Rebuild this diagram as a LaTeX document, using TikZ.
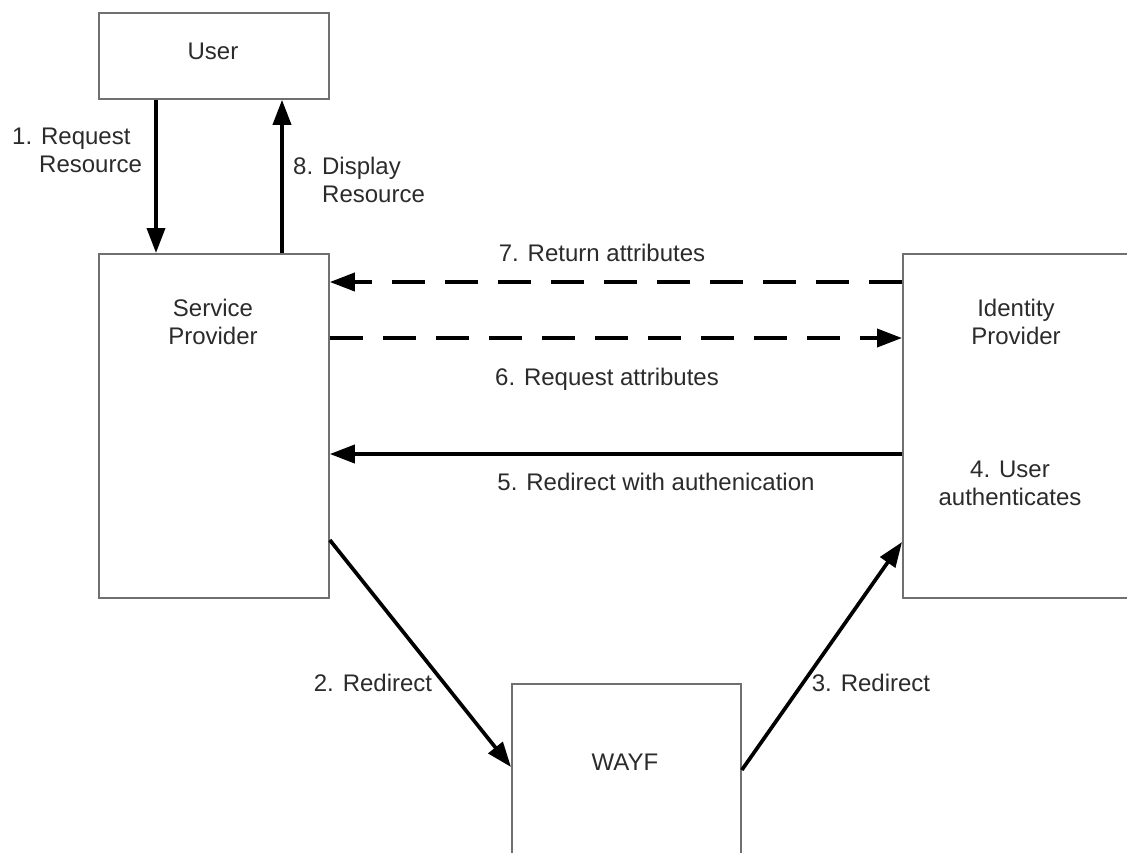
\documentclass[tikz,border=0pt]{standalone}
\usepackage{fontspec}
\setmainfont{Liberation Sans}
\usetikzlibrary{arrows.meta,calc}
\definecolor{boxgray}{HTML}{707070}
\definecolor{txtgray}{HTML}{2B2B2B}
\begin{document}
\begin{tikzpicture}[x=1pt,y=-1pt,
  box/.style={draw=boxgray, line width=1.8pt, fill=white, inner sep=0pt, anchor=north west},
  lbl/.style={text=txtgray, font=\fontsize{24}{28}\selectfont, inner sep=0pt},
  flow/.style={line width=3.7pt, draw=black, -{Triangle[length=25pt,width=18pt]}},
  dflow/.style={flow, dash pattern=on 33pt off 20pt}]
  \useasboundingbox (0,0) rectangle (1127,852);
  \clip (0,0) rectangle (1127,852);

  % boxes (the right and lower ones run past the page edge)
  \node[box, minimum width=230pt, minimum height=86pt]  (user) at (98,12)  {};
  \node[box, minimum width=230pt, minimum height=344pt] (sp)   at (98,253) {};
  \node[box, minimum width=230pt, minimum height=344pt] (idp)  at (902,253) {};
  \node[box, minimum width=229pt, minimum height=300pt] (wayf) at (511,683) {};

  % box captions
  \node[lbl] (userlbl) at (213,51) {User};
  \node[lbl, align=center] (splbl)  at (213,322) {Service\\Provider};
  \node[lbl, align=center] (idplbl) at (1016,322) {Identity\\Provider};
  \node[lbl, align=center] (authlbl) at (1010,483) {4. User\\authenticates};
  \node[lbl] (wayflbl) at (625,762) {WAYF};

  % user <-> service provider
  \draw[flow] ($(user.south west)+(58,0)$) -- ($(sp.north west)+(58,0)$);
  \draw[flow] ($(sp.north west)+(184,0)$) -- ($(user.south west)+(184,0)$);
  \node[lbl, align=left, anchor=west] (l1) at (12,150) {1. Request\\\hspace*{27pt}Resource};
  \node[lbl, align=left, anchor=west] (l8) at (293,180) {8. Display\\\hspace*{29pt}Resource};

  % service provider <-> identity provider
  \draw[dflow] ($(idp.north west)+(0,29)$) -- ($(sp.north east)+(0,29)$);
  \draw[dflow] ($(sp.north east)+(0,85)$) -- ($(idp.north west)+(0,85)$);
  \draw[flow]  ($(idp.north west)+(0,201)$) -- ($(sp.north east)+(0,201)$);
  \node[lbl] (l7) at (602,253) {7. Return attributes};
  \node[lbl] (l6) at (607,379) {6. Request attributes};
  \node[lbl] (l5) at (656,482) {5. Redirect with authenication};

  % redirects through WAYF
  \draw[flow] ($(sp.north east)+(0,287)$) -- ($(wayf.north west)+(0,84)$);
  \draw[flow] ($(wayf.north east)+(0,87)$) -- ($(idp.north west)+(0,289)$);
  \node[lbl] (l2) at (373,683) {2. Redirect};
  \node[lbl] (l3) at (871,683) {3. Redirect};
\end{tikzpicture}
\end{document}
